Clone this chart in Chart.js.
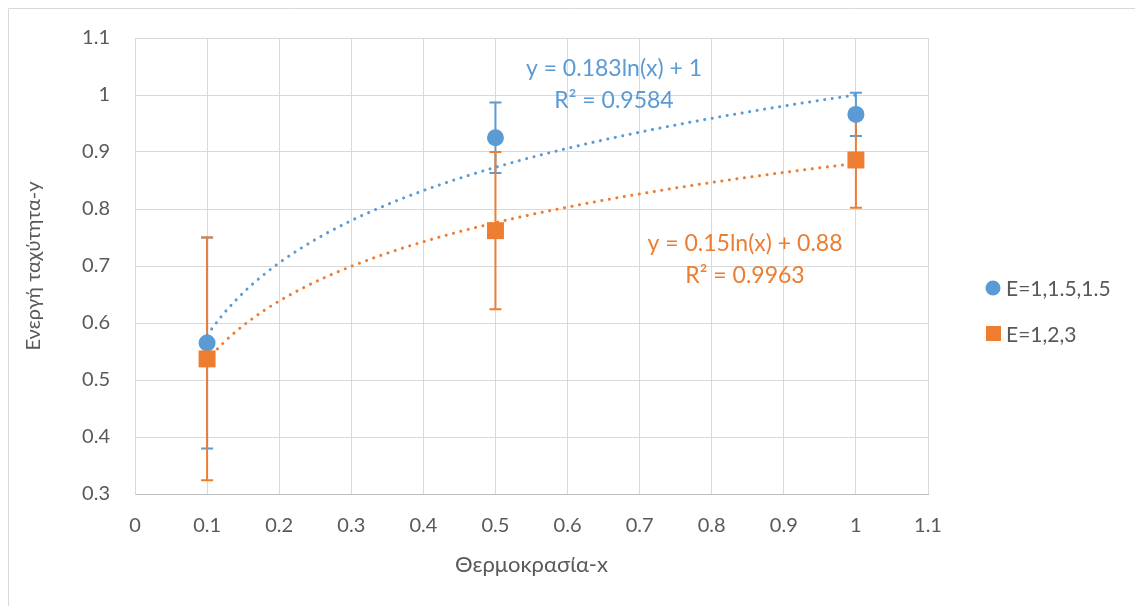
<!DOCTYPE html>
<html>
<head>
<meta charset="utf-8">
<script src="https://cdn.jsdelivr.net/npm/chart.js@4/dist/chart.umd.min.js"></script>
<style>
html,body{margin:0;padding:0;background:#fff;}
#wrap{position:relative;width:1135px;height:606px;}
</style>
</head>
<body>
<div id="wrap"><canvas id="c" width="1135" height="606"></canvas></div>
<script>
// ---- data ----
const xValues = [0.1, 0.5, 1];
const seriesNames = ['E=1,1.5,1.5', 'E=1,2,3'];
const blueY = [0.565, 0.925, 0.966];
const blueErr = [0.185, 0.062, 0.038];
const orangeY = [0.537, 0.762, 0.886];
const orangeErr = [0.213, 0.138, 0.084];
// trendline coefficients shown on the chart: y = a*ln(x) + b
const blueTrend = [0.183, 1];
const orangeTrend = [0.15, 0.88];
const trendX = [0.1, 0.12, 0.14, 0.16, 0.18, 0.2, 0.23, 0.26, 0.3, 0.35, 0.4, 0.45, 0.5, 0.55, 0.6, 0.65, 0.7, 0.75, 0.8, 0.85, 0.9, 0.95, 1];
const blueLabel = ['y = 0.183ln(x) + 1', 'R² = 0.9584'];
const orangeLabel = ['y = 0.15ln(x) + 0.88', 'R² = 0.9963'];
const xTitle = 'Θερμοκρασία-x';
const yTitle = 'Ενεργή ταχύτητα-y';

const BLUE = '#5B9BD5';
const ORANGE = '#ED7D31';
const FONT = 'Lato, "Open Sans", sans-serif';
const TXT = '#595959';

function trend(c){ return trendX.map(x => ({x: x, y: c[0]*Math.log(x) + c[1]})); }
function pts(ys){ return xValues.map((x,i) => ({x: x, y: ys[i]})); }

const errorBars = {
  id: 'errorBars',
  beforeDatasetsDraw(chart){
    const ctx = chart.ctx, xs = chart.scales.x, ys = chart.scales.y;
    const sets = [[blueY, blueErr, BLUE], [orangeY, orangeErr, ORANGE]];
    ctx.save();
    ctx.lineWidth = 2;
    sets.forEach(([vals, errs, col]) => {
      ctx.strokeStyle = col;
      xValues.forEach((x, i) => {
        const px = xs.getPixelForValue(x);
        const top = ys.getPixelForValue(vals[i] + errs[i]);
        const bot = ys.getPixelForValue(vals[i] - errs[i]);
        ctx.beginPath();
        ctx.moveTo(px, top); ctx.lineTo(px, bot);
        ctx.moveTo(px - 6, top); ctx.lineTo(px + 6, top);
        ctx.moveTo(px - 6, bot); ctx.lineTo(px + 6, bot);
        ctx.stroke();
      });
    });
    ctx.restore();
  }
};

const extras = {
  id: 'extras',
  afterDraw(chart){
    const ctx = chart.ctx;
    ctx.save();
    // outer chart border
    ctx.strokeStyle = '#d9d9d9';
    ctx.lineWidth = 1;
    ctx.beginPath();
    ctx.moveTo(8.5, 606); ctx.lineTo(8.5, 8.5); ctx.lineTo(1135, 8.5);
    ctx.stroke();
    // trendline labels
    ctx.font = '23px ' + FONT;
    ctx.textAlign = 'center';
    ctx.textBaseline = 'middle';
    ctx.fillStyle = BLUE;
    ctx.fillText(blueLabel[0], 614, 69);
    ctx.fillText(blueLabel[1], 614, 101);
    ctx.fillStyle = ORANGE;
    ctx.fillText(orangeLabel[0], 745, 244);
    ctx.fillText(orangeLabel[1], 745, 276);
    // legend
    ctx.font = '21px ' + FONT;
    ctx.textAlign = 'left';
    ctx.fillStyle = BLUE;
    ctx.beginPath(); ctx.arc(993, 288, 7.5, 0, Math.PI*2); ctx.fill();
    ctx.fillStyle = ORANGE;
    ctx.fillRect(986, 326, 15, 15);
    ctx.fillStyle = TXT;
    ctx.fillText(seriesNames[0], 1006, 289);
    ctx.fillText(seriesNames[1], 1006, 335);
    ctx.restore();
  }
};

new Chart(document.getElementById('c'), {
  type: 'scatter',
  data: {
    datasets: [
      {label: seriesNames[0] + ' trend', data: trend(blueTrend), showLine: true, fill: false,
       borderColor: BLUE, borderWidth: 3, borderDash: [0.1, 7.5], borderCapStyle: 'round',
       pointRadius: 0, tension: 0.4, cubicInterpolationMode: 'monotone', order: 4},
      {label: seriesNames[1] + ' trend', data: trend(orangeTrend), showLine: true, fill: false,
       borderColor: ORANGE, borderWidth: 3, borderDash: [0.1, 7.5], borderCapStyle: 'round',
       pointRadius: 0, tension: 0.4, cubicInterpolationMode: 'monotone', order: 3},
      {label: seriesNames[0], data: pts(blueY), pointStyle: 'circle', pointRadius: 8.5,
       backgroundColor: BLUE, borderColor: BLUE, borderWidth: 0, order: 2},
      {label: seriesNames[1], data: pts(orangeY), pointStyle: 'rect', pointRadius: 12,
       backgroundColor: ORANGE, borderColor: ORANGE, borderWidth: 0, order: 1}
    ]
  },
  options: {
    responsive: false,
    animation: false,
    devicePixelRatio: 1,
    layout: {padding: {left: 0, top: 38, right: 207, bottom: 28}},
    plugins: {legend: {display: false}, tooltip: {enabled: false}},
    scales: {
      x: {
        type: 'linear', min: 0, max: 1.1,
        ticks: {stepSize: 0.1, color: TXT, font: {family: FONT, size: 20}, padding: 20,
                callback: v => Math.round(v*10)/10},
        grid: {color: '#d9d9d9', lineWidth: 1, drawTicks: false},
        border: {display: true, color: '#bfbfbf'},
        title: {display: true, text: xTitle, color: TXT, font: {family: FONT, size: 22}, padding: {top: 10, bottom: 0}},
        afterFit: s => { s.height = 84; }
      },
      y: {
        type: 'linear', min: 0.3, max: 1.1,
        ticks: {stepSize: 0.1, color: TXT, font: {family: FONT, size: 20}, padding: 25,
                callback: v => Math.round(v*10)/10},
        grid: {color: '#d9d9d9', lineWidth: 1, drawTicks: false},
        border: {display: true, color: '#d9d9d9'},
        title: {display: true, text: yTitle, color: TXT, font: {family: FONT, size: 20}, padding: {top: 22, bottom: 0}},
        afterFit: s => { s.width = 135; }
      }
    }
  },
  plugins: [errorBars, extras]
});
</script>
</body>
</html>
